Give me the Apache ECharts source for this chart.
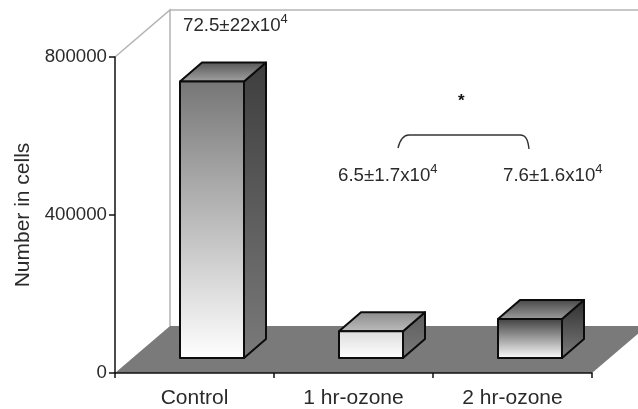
<!DOCTYPE html>
<html><head><meta charset="utf-8">
<style>html,body{margin:0;padding:0;background:#fff}#c{width:638px;height:409px}</style>
<script src="https://cdn.jsdelivr.net/npm/echarts@6/dist/echarts.min.js"></script>
</head><body><div id="c"></div>
<script>
const categories = ['Control', '1 hr-ozone', '2 hr-ozone'];
const cellCounts = [700000, 68000, 99000];
const yTicks = [0, 800000];
const yInterval = 400000;
const yAxisTitle = 'Number in cells';
const notes = ['72.5±22x10', '6.5±1.7x10', '7.6±1.6x10'];

const FONT = '"Liberation Sans", Arial, sans-serif';
const INK = '#2a2a2a';
const WALL = '#b4b4b4';
const FLOOR = '#7a7a7a';
const DX = 55, DY = -47;           // depth of the chart box
const BDX = 22, BDY = -19;         // depth of a bar
const BASE_X = 17.5, BASE_Y = -15; // bar base shift on the floor
const HALF = 32;

const barLooks = [
  {front: ['#767676', '#ffffff'], top: ['#555555', '#a4a4a4'], side: ['#3e3e3e', '#7a7a7a']},
  {front: ['#dcdcdc', '#ffffff'], top: ['#8a8a8a', '#bdbdbd'], side: ['#5c5c5c', '#7a7a7a']},
  {front: ['#3e3e3e', '#ffffff'], top: ['#444444', '#a0a0a0'], side: ['#2e2e2e', '#7c7c7c']}
];
const vgrad = (c) => new echarts.graphic.LinearGradient(0, 0, 0, 1, [{offset: 0, color: c[0]}, {offset: 1, color: c[1]}]);

function renderFloor(params, api) {
  const g = params.coordSys;
  const L = g.x, R = g.x + g.width, T = g.y, B = g.y + g.height;
  return {type: 'group', children: [
    {type: 'polygon', shape: {points: [[L, B], [R, B], [R + DX, B + DY], [L + DX, B + DY]]}, style: {fill: FLOOR}},
    {type: 'polyline', shape: {points: [[L, T], [L + DX, T + DY], [L + DX, B + DY]]}, style: {fill: 'none', stroke: WALL, lineWidth: 1.5}},
    {type: 'line', shape: {x1: L + DX, y1: T + DY, x2: R + DX, y2: T + DY}, style: {stroke: WALL, lineWidth: 1.5}}
  ]};
}

function renderBar(params, api) {
  const i = api.value(0);
  const p0 = api.coord([i, 0]);
  const p1 = api.coord([i, api.value(1)]);
  const x0 = p0[0] + BASE_X - HALF, x1 = p0[0] + BASE_X + HALF;
  const yb = p0[1] + BASE_Y, yt = p1[1] + BASE_Y;
  const look = barLooks[i];
  const line = {stroke: '#0c0c0c', lineWidth: 2, lineJoin: 'round'};
  return {type: 'group', children: [
    {type: 'polygon', shape: {points: [[x1, yt], [x1 + BDX, yt + BDY], [x1 + BDX, yb + BDY], [x1, yb]]}, style: {fill: vgrad(look.side), ...line}},
    {type: 'polygon', shape: {points: [[x0, yt], [x0 + BDX, yt + BDY], [x1 + BDX, yt + BDY], [x1, yt]]}, style: {fill: vgrad(look.top), ...line}},
    {type: 'polygon', shape: {points: [[x0, yb], [x0, yt], [x1, yt], [x1, yb]]}, style: {fill: vgrad(look.front), ...line}}
  ]};
}

const noteText = (left, top, s) => ({
  type: 'text', left, top, z: 20,
  style: {
    text: '{a|' + s + '}{s|4}',
    rich: {
      a: {fontSize: 18.7, fontFamily: FONT, fill: INK, verticalAlign: 'bottom', lineHeight: 22},
      s: {fontSize: 13, fontFamily: FONT, fill: INK, verticalAlign: 'top', lineHeight: 22}
    }
  }
});
const stroke = {fill: 'none', stroke: '#333', lineWidth: 1.4};

const chart = echarts.init(document.getElementById('c'), null, {renderer: 'canvas'});
chart.setOption({
  animation: false,
  backgroundColor: '#fff',
  grid: {left: 115, right: 46, top: 57, bottom: 36, containLabel: false},
  xAxis: {
    type: 'category', data: categories, z: 5,
    axisLine: {lineStyle: {color: '#111', width: 1.5}},
    axisTick: {show: true, length: 5, lineStyle: {color: '#111', width: 1.5}},
    axisLabel: {color: INK, fontFamily: FONT, fontSize: 21, margin: 15},
    splitLine: {show: false}
  },
  yAxis: {
    type: 'value', min: yTicks[0], max: yTicks[1], interval: yInterval, z: 5,
    name: yAxisTitle, nameLocation: 'middle', nameGap: 81, nameRotate: 90,
    nameTextStyle: {color: INK, fontFamily: FONT, fontSize: 21},
    axisLine: {show: true, lineStyle: {color: '#111', width: 1.5}},
    axisTick: {show: true, length: 6, lineStyle: {color: '#111', width: 1.5}},
    axisLabel: {color: INK, fontFamily: FONT, fontSize: 18.7, margin: 8, formatter: (v) => String(v)},
    splitLine: {show: false}
  },
  series: [
    {type: 'custom', coordinateSystem: 'cartesian2d', renderItem: renderFloor, data: [[0, 0]], z: 1, silent: true, clip: false},
    {type: 'custom', coordinateSystem: 'cartesian2d', renderItem: renderBar,
      encode: {x: 0, y: 1}, z: 2, silent: true, clip: false,
      data: cellCounts.map((v, i) => [i, v])}
  ],
  graphic: [
    noteText(183, 13, notes[0]),
    noteText(338, 163, notes[1]),
    noteText(503, 163, notes[2]),
    {type: 'text', left: 458, top: 93, z: 20, style: {text: '*', fill: '#111', font: 'bold 17px ' + FONT}},
    {type: 'bezierCurve', z: 20, shape: {x1: 398, y1: 148, cpx1: 400, cpy1: 140, cpx2: 403, cpy2: 135, x2: 409, y2: 135}, style: stroke},
    {type: 'line', z: 20, shape: {x1: 409, y1: 135, x2: 520, y2: 135}, style: stroke},
    {type: 'bezierCurve', z: 20, shape: {x1: 520, y1: 135, cpx1: 526, cpy1: 135, cpx2: 528, cpy2: 140, x2: 529, y2: 149}, style: stroke}
  ]
});
</script></body></html>
